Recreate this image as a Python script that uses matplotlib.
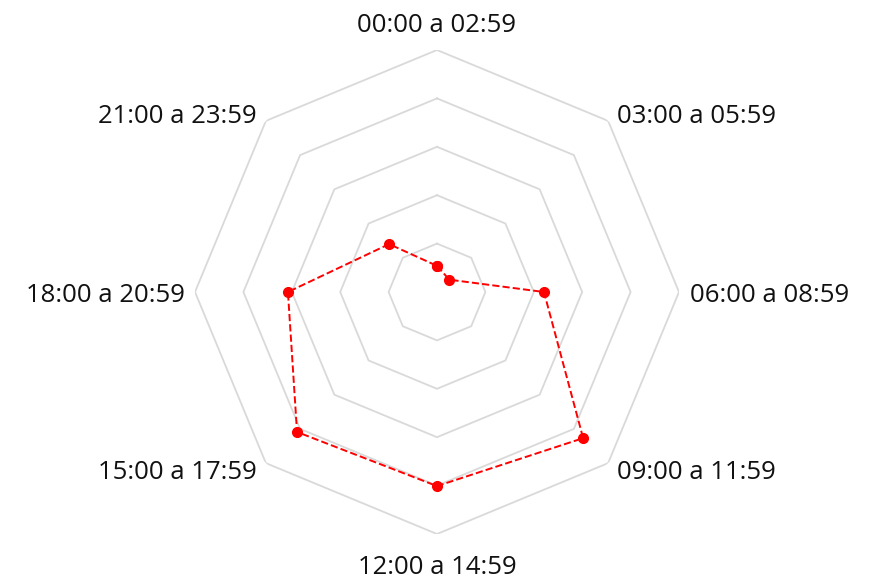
import numpy as np
import matplotlib.pyplot as plt

categories = ['00:00 a 02:59', '03:00 a 05:59', '06:00 a 08:59', '09:00 a 11:59',
              '12:00 a 14:59', '15:00 a 17:59', '18:00 a 20:59', '21:00 a 23:59']
values = [0.54, 0.36, 2.21, 4.27, 4.01, 4.09, 3.08, 1.40]
rings = [1, 2, 3, 4, 5]

plt.rcParams['font.family'] = ['Open Sans', 'DejaVu Sans']

fig = plt.figure(figsize=(8.77, 5.81), dpi=100)
ax = fig.add_axes([195 / 877, 47 / 581, 484 / 877, 484 / 581], projection='polar')
ax.set_theta_zero_location('N')
ax.set_theta_direction(-1)
ax.set_ylim(0, 5)
ax.grid(False)
ax.spines['polar'].set_visible(False)
ax.set_xticks([])
ax.set_yticks([])

n = len(categories)
angles = np.arange(n) * 2 * np.pi / n
closed = np.append(angles, angles[0])

# octagon grid
for r in rings:
    ax.plot(closed, [r] * (n + 1), color='#d9d9d9', lw=1.3, zorder=1)

ax.plot(closed, values + values[:1], color='red', ls='--', lw=1.4,
        marker='o', markersize=7, zorder=3, clip_on=False)

# category labels, offsets in pixels from the outer vertex
offsets = [(0, 28, 'center'), (9, 7.5, 'left'), (11, 0, 'left'), (9, -6, 'left'),
           (0, -31, 'center'), (-9, -6, 'right'), (-10, 0, 'right'), (-9, 7.5, 'right')]
for a, lab, (dx, dy, ha) in zip(angles, categories, offsets):
    ax.annotate(lab, xy=(a, 5), xytext=(dx, dy), textcoords='offset pixels',
                ha=ha, va='center_baseline', fontsize=18.5, color='#111111',
                annotation_clip=False)

fig.savefig('out.png', dpi=100)
